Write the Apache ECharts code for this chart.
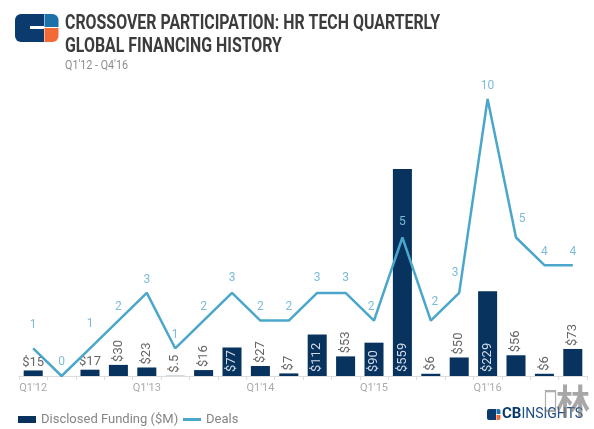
<!DOCTYPE html>
<html>
<head>
<meta charset="utf-8">
<script src="https://cdn.jsdelivr.net/npm/echarts@6/dist/echarts.min.js"></script>
<style>
html,body{margin:0;padding:0;background:#fff;}
#chart{width:594px;height:429px;}
</style>
</head>
<body>
<div id="chart"></div>
<script>
// ---- data ----
const quarters = ["Q1'12","Q2'12","Q3'12","Q4'12","Q1'13","Q2'13","Q3'13","Q4'13","Q1'14","Q2'14","Q3'14","Q4'14","Q1'15","Q2'15","Q3'15","Q4'15","Q1'16","Q2'16","Q3'16","Q4'16"];
const funding = [15, null, 17, 30, 23, 0.5, 16, 77, 27, 7, 112, 53, 90, 559, 6, 50, 229, 56, 6, 73];
const deals = [1, 0, 1, 2, 3, 1, 2, 3, 2, 2, 3, 3, 2, 5, 2, 3, 10, 5, 4, 4];
const titleLines = ["CROSSOVER PARTICIPATION: HR TECH QUARTERLY", "GLOBAL FINANCING HISTORY"];
const subtitle = "Q1'12 - Q4'16";
const seriesNames = ["Disclosed Funding ($M)", "Deals"];

// ---- styling ----
const NAVY = '#08335f';
const LINE = '#4ba6cb';
const LINE_LBL = '#7dbcd9';
const insideIdx = [7, 10, 12, 13, 16];
const flatIdx = [0, 2];
const dealOffsets = {0: [0, -10], 1: [0, -1], 2: [0, -11], 7: [0, -2], 10: [0, -2], 11: [0, -2], 12: [-3, 0], 13: [0, -2], 14: [4, -5], 15: [-4, -7], 17: [6, -5]};

function fmtMoney(v) { return '$' + String(v).replace(/^0\./, '.'); }

const barData = funding.map((v, i) => {
  if (v == null) return '-';
  let label;
  if (insideIdx.includes(i)) {
    label = {position: 'insideBottom', rotate: 90, align: 'left', verticalAlign: 'middle', distance: 4, color: '#d3dbe6'};
  } else if (flatIdx.includes(i)) {
    label = {position: 'top', rotate: 0, align: 'center', verticalAlign: 'bottom', distance: 1};
  } else {
    label = {position: 'top', rotate: 90, align: 'left', verticalAlign: 'middle', distance: 3};
  }
  return {value: v, label: label};
});
const lineData = deals.map((v, i) => dealOffsets[i] ? {value: v, label: {offset: dealOffsets[i]}} : v);

// measure text for condensed title
const mctx = document.createElement('canvas').getContext('2d');
function measure(txt, font) { mctx.font = font; return mctx.measureText(txt).width; }
const titleFont = 'bold 20px Roboto';
const tScale = 375 / measure(titleLines[0], titleFont);
const subFont = '12px Roboto';
const sScale = 63 / measure(subtitle, subFont);

const chart = echarts.init(document.getElementById('chart'), null, {renderer: 'canvas'});
const option = {
  animation: false,
  backgroundColor: '#fff',
  textStyle: {fontFamily: 'Roboto'},
  grid: {left: 19, right: 7, top: 99, bottom: 53, containLabel: false},
  legend: [
    {
      left: 13, top: 408, itemWidth: 18, itemHeight: 7,
      textStyle: {color: '#858585', fontSize: 13, fontFamily: 'Roboto'},
      data: [{name: seriesNames[0], icon: 'rect'}]
    },
    {
      left: 178, top: 408, itemWidth: 18, itemHeight: 3,
      textStyle: {color: '#858585', fontSize: 13, fontFamily: 'Roboto'},
      data: [{name: seriesNames[1], icon: 'rect'}]
    }
  ],
  xAxis: {
    type: 'category', data: quarters, boundaryGap: true,
    axisLine: {lineStyle: {color: '#dcdcdc', width: 1}},
    axisTick: {show: true, interval: 0, length: 4, lineStyle: {color: '#dcdcdc'}},
    axisLabel: {interval: 3, color: '#aaaaaa', fontSize: 11, margin: 7}
  },
  yAxis: [
    {type: 'value', min: 0, max: 748, show: false, splitLine: {show: false}},
    {type: 'value', min: 0, max: 10, show: false, splitLine: {show: false}}
  ],
  series: [
    {
      name: seriesNames[0], type: 'bar', yAxisIndex: 0, data: barData, barWidth: '67%',
      itemStyle: {color: NAVY},
      label: {show: true, formatter: p => fmtMoney(p.value), color: '#666', fontSize: 13, fontFamily: 'Roboto'},
      z: 2
    },
    {
      name: seriesNames[1], type: 'line', yAxisIndex: 1, data: lineData,
      symbol: 'circle', symbolSize: 0.5, showSymbol: true,
      lineStyle: {color: LINE, width: 2.5},
      itemStyle: {color: LINE},
      label: {show: true, position: 'top', distance: 7, color: LINE_LBL, fontSize: 12, fontFamily: 'Roboto'},
      z: 3
    }
  ],
  graphic: [
    // logo
    {type: 'rect', shape: {x: 15, y: 14, width: 29, height: 28, r: [6, 0, 0, 6]}, style: {fill: '#0b3a6e'}},
    {type: 'rect', shape: {x: 30, y: 26, width: 14, height: 3}, style: {fill: '#fff'}},
    {type: 'rect', shape: {x: 44.5, y: 14, width: 14, height: 13, r: [0, 6, 0, 0]}, style: {fill: '#1c72a8'}},
    {type: 'rect', shape: {x: 44.5, y: 28, width: 14, height: 14, r: [0, 0, 6, 0]}, style: {fill: '#f26a36'}},
    // title
    {type: 'text', x: 65, y: 14, scaleX: tScale, style: {text: titleLines[0], font: titleFont, fill: '#3c3c3c'}},
    {type: 'text', x: 65, y: 37, scaleX: tScale, style: {text: titleLines[1], font: titleFont, fill: '#3c3c3c'}},
    {type: 'text', x: 65, y: 60, scaleX: sScale, style: {text: subtitle, font: subFont, fill: '#8c8c8c'}},
    // bottom-right brand
    {type: 'rect', shape: {x: 487, y: 409, width: 9, height: 11, r: [2, 0, 0, 2]}, style: {fill: '#0b3a6e'}},
    {type: 'rect', shape: {x: 496.5, y: 409, width: 4, height: 5, r: [0, 2, 0, 0]}, style: {fill: '#1c72a8'}},
    {type: 'rect', shape: {x: 496.5, y: 415, width: 4, height: 5, r: [0, 0, 2, 0]}, style: {fill: '#f26a36'}},
    {type: 'text', x: 502, y: 407, style: {text: '{b|CB}{l|INSIGHTS}', rich: {b: {fontWeight: 'bold', fontSize: 15, fontFamily: 'Roboto', fill: '#0b3a6e'}, l: {fontSize: 14, fontFamily: 'Roboto', fill: '#1f4f86'}}}},
    // overlay watermark
    {type: 'text', x: 543, y: 386, z: 100, scaleX: 0.5, style: {text: '口', font: '30px "Noto Sans CJK SC"', fill: 'rgba(120,120,120,0.6)'}},
    {type: 'text', x: 556, y: 384, z: 100, style: {text: '林', font: 'bold 34px "Noto Sans CJK SC"', fill: 'rgba(120,120,120,0.65)'}}
  ]
};
chart.setOption(option);
</script>
</body>
</html>
